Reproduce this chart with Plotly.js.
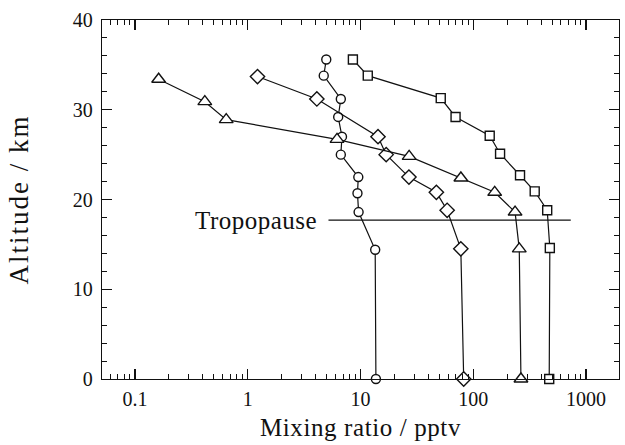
<!DOCTYPE html>
<html>
<head>
<meta charset="utf-8">
<script src="https://cdn.plot.ly/plotly-3.0.1.min.js"></script>
<style>
html,body{margin:0;padding:0;background:#fff;}
#chart{width:625px;height:445px;}
.g-xtitle text{letter-spacing:0.6px;}
.g-ytitle text{letter-spacing:2px;}
.annotation-text{letter-spacing:0.5px;}
</style>
</head>
<body>
<div id="chart"></div>
<script>
// Series: mixing ratio (pptv) vs altitude (km)
const circleAlt = [35.6, 33.8, 31.2, 29.2, 27.0, 25.0, 22.5, 20.7, 18.6, 14.4, 0];
const circleVal = [4.97, 4.72, 6.69, 6.34, 6.85, 6.69, 9.56, 9.40, 9.62, 13.5, 13.7];

const diamondAlt = [33.7, 31.2, 27.0, 25.0, 22.5, 20.8, 18.8, 14.5, 0];
const diamondVal = [1.22, 4.10, 14.3, 16.9, 26.9, 47.1, 58.7, 77.6, 82.3];

const triangleAlt = [33.4, 30.9, 28.9, 26.7, 24.8, 22.4, 20.8, 18.6, 14.5, 0];
const triangleVal = [0.162, 0.416, 0.644, 6.19, 27.0, 77.7, 155, 235, 256, 265];

const squareAlt = [35.6, 33.8, 31.3, 29.2, 27.1, 25.1, 22.7, 20.9, 18.8, 14.6, 0];
const squareVal = [8.56, 11.6, 51.5, 69.7, 140, 173, 260, 351, 453, 478, 472];

const tropopauseAlt = [17.7, 17.7];
const tropopauseVal = [5.2, 733];
const tropopauseLabel = "Tropopause";

const xTickVals = [0.1, 1, 10, 100, 1000];
const xTickText = ["0.1", "1", "10", "100", "1000"];
const yTickVals = [0, 10, 20, 30, 40];

const FONT = "Liberation Serif, Times New Roman, serif";

function series(x, y, sym, size) {
  return {
    x: x, y: y, type: "scatter", mode: "lines+markers",
    line: {color: "#111", width: 1.2},
    marker: {symbol: sym, size: size, color: "#fff", line: {color: "#111", width: 1.4}},
    cliponaxis: false, showlegend: false, hoverinfo: "skip"
  };
}

const data = [
  {x: tropopauseVal, y: tropopauseAlt, type: "scatter", mode: "lines",
   line: {color: "#111", width: 1.2}, showlegend: false, hoverinfo: "skip"},
  series(circleVal, circleAlt, "circle", 9),
  series(diamondVal, diamondAlt, "diamond", 11),
  series(triangleVal, triangleAlt, "triangle-up", 12),
  series(squareVal, squareAlt, "square", 9)
];

const layout = {
  width: 625, height: 445,
  margin: {l: 102, r: 6, t: 20, b: 66},
  paper_bgcolor: "#fff", plot_bgcolor: "#fff",
  font: {family: FONT, color: "#111", size: 20},
  xaxis: {
    type: "log", range: [-1.293, 3.293],
    tickmode: "array", tickvals: xTickVals, ticktext: xTickText,
    ticks: "inside", ticklen: 10, tickwidth: 1.2, tickcolor: "#111",
    minor: {dtick: "D1", ticks: "inside", ticklen: 5, tickwidth: 1, tickcolor: "#111"},
    showline: true, linecolor: "#111", linewidth: 1.3, mirror: "ticks",
    showgrid: false, zeroline: false,
    tickfont: {family: FONT, size: 20},
    ticklabelstandoff: 2,
    title: {text: "Mixing ratio / pptv", font: {family: FONT, size: 25}, standoff: 9}
  },
  yaxis: {
    range: [0, 40],
    tickmode: "array", tickvals: yTickVals,
    ticks: "inside", ticklen: 10, tickwidth: 1.2, tickcolor: "#111",
    minor: {dtick: 2, ticks: "inside", ticklen: 5, tickwidth: 1, tickcolor: "#111"},
    showline: true, linecolor: "#111", linewidth: 1.3, mirror: "ticks",
    showgrid: false, zeroline: false,
    tickfont: {family: FONT, size: 20},
    ticklabelstandoff: 4,
    title: {text: "Altitude / km", font: {family: FONT, size: 27}, standoff: 36}
  },
  annotations: [{
    x: Math.log10(tropopauseVal[0]), y: tropopauseAlt[0], xref: "x", yref: "y",
    text: tropopauseLabel, showarrow: false, xanchor: "right", yanchor: "middle",
    xshift: -9, font: {family: FONT, size: 25, color: "#111"}
  }]
};

Plotly.newPlot("chart", data, layout, {staticPlot: true, displayModeBar: false});
</script>
</body>
</html>
